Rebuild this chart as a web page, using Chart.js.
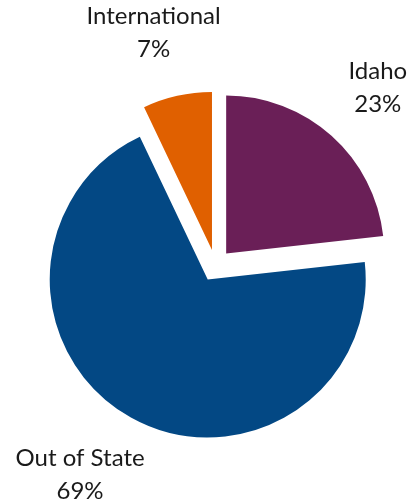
<!DOCTYPE html>
<html>
<head>
<meta charset="utf-8">
<script src="https://cdn.jsdelivr.net/npm/chart.js@4/dist/chart.umd.min.js"></script>
<style>
  html, body { margin: 0; padding: 0; background: #ffffff; }
  #wrap { width: 420px; height: 504px; position: relative; }
</style>
</head>
<body>
<div id="wrap"><canvas id="c" width="420" height="504"></canvas></div>
<script>
const categories = ["Idaho", "Out of State", "International"];
const shares = [23, 69, 7];
const sliceColors = ["#6a1f57", "#034884", "#e06000"];

const EXPLODE = 16;      // px each slice is pulled out along its bisector
const LABEL_GAP = 40;    // px beyond the rim to the label box
const LINE_H = 33;       // baseline-to-baseline
const CAP_H = 17;

const explodePlugin = {
  id: 'explode',
  afterDatasetUpdate(chart, args) {
    const meta = args.meta;
    meta.data.forEach(arc => {
      if (arc._baseX === undefined) { arc._baseX = arc.x; arc._baseY = arc.y; }
      const mid = (arc.startAngle + arc.endAngle) / 2;
      arc.x = arc._baseX + Math.cos(mid) * EXPLODE;
      arc.y = arc._baseY + Math.sin(mid) * EXPLODE;
    });
  }
};

const labelPlugin = {
  id: 'sliceLabels',
  afterDatasetsDraw(chart) {
    const ctx = chart.ctx;
    const meta = chart.getDatasetMeta(0);
    ctx.save();
    ctx.font = '24px Lato';
    ctx.fillStyle = '#1a1a1a';
    ctx.textAlign = 'center';
    ctx.textBaseline = 'alphabetic';
    meta.data.forEach((arc, i) => {
      const lines = [categories[i], shares[i] + '%'];
      const w = Math.max(...lines.map(t => ctx.measureText(t).width));
      const h = LINE_H + CAP_H;
      const mid = (arc.startAngle + arc.endAngle) / 2;
      const dx = Math.cos(mid), dy = Math.sin(mid);
      const d = arc.outerRadius + LABEL_GAP;
      const cx = arc.x + dx * d + dx * w / 2;
      const cy = arc.y + dy * d + dy * h / 2;
      const top = cy - h / 2;
      ctx.fillText(lines[0], cx, top + CAP_H);
      ctx.fillText(lines[1], cx, top + CAP_H + LINE_H);
    });
    ctx.restore();
  }
};

new Chart(document.getElementById('c'), {
  type: 'pie',
  data: {
    labels: categories,
    datasets: [{
      data: shares,
      backgroundColor: sliceColors,
      borderWidth: 0,
      radius: 158
    }]
  },
  options: {
    responsive: false,
    animation: false,
    layout: { padding: { left: 11, right: 0, top: 27, bottom: 0 } },
    plugins: {
      legend: { display: false },
      tooltip: { enabled: false }
    }
  },
  plugins: [explodePlugin, labelPlugin]
});
</script>
</body>
</html>
